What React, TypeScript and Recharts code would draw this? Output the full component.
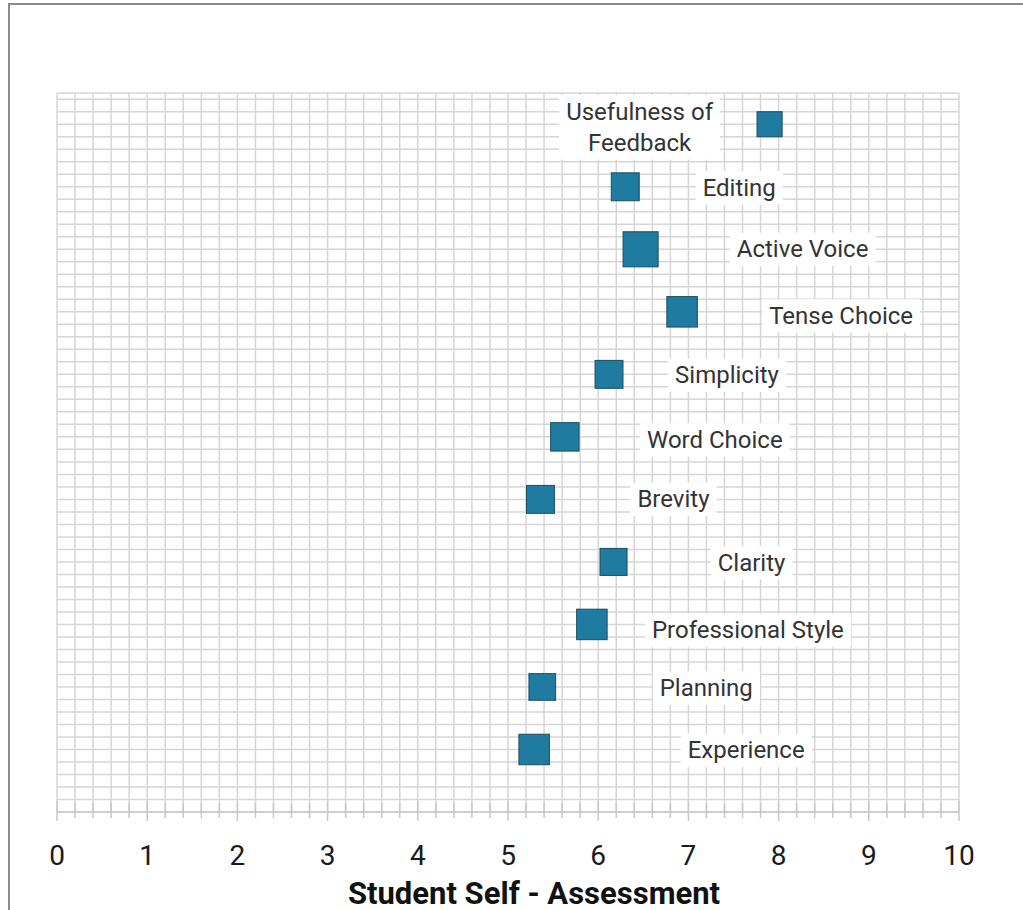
import React from 'react';
import { ScatterChart, Scatter, XAxis, YAxis, ZAxis, CartesianGrid } from 'recharts';

// skills, top to bottom
const SKILLS = [
  'Usefulness of\nFeedback',
  'Editing',
  'Active Voice',
  'Tense Choice',
  'Simplicity',
  'Word Choice',
  'Brevity',
  'Clarity',
  'Professional Style',
  'Planning',
  'Experience',
];
const SCORES = [7.9, 6.3, 6.47, 6.93, 6.12, 5.63, 5.36, 6.17, 5.93, 5.38, 5.29];
const ROWS = [11, 10, 9, 8, 7, 6, 5, 4, 3, 2, 1];
// bubble size value of each square
const BUBBLE = [6.3, 7.8, 12.3, 9.3, 7.8, 8.1, 7.8, 7.3, 9.3, 7.1, 9.3];

const X_LABELS = [0, 1, 2, 3, 4, 5, 6, 7, 8, 9, 10];
const AXIS_TITLE = 'Student Self - Assessment';

// minor grid every 0.2
const X_GRID = Array.from({ length: 51 }, (_, i) => i / 5);
const Y_GRID = Array.from({ length: 58 }, (_, i) => i / 5);

// where each label box sits, px from the square's centre
const LABEL_OFFSET = [
  [-130, 3], [114, 1], [162, 0], [159, 4], [118, 1], [150, 3],
  [133, 0], [138, 1], [156, 6], [164, 1], [212, 1],
];

const data = SKILLS.map((name, i) => ({ idx: i, name, x: SCORES[i], y: ROWS[i], z: BUBBLE[i] }));

const LABEL_FONT = '24px Roboto';
const GRID = '#d6d6d6';

let ctx: CanvasRenderingContext2D | null = null;
function measure(s: string) {
  if (!ctx) ctx = document.createElement('canvas').getContext('2d');
  if (!ctx) return s.length * 12;
  ctx.font = LABEL_FONT;
  return ctx.measureText(s).width;
}

const Marker = (props: any) => {
  const { cx, cy, size, payload } = props;
  const side = Math.sqrt(size);
  const [dx, dy] = LABEL_OFFSET[payload.idx];
  const lines: string[] = payload.name.split('\n');
  const w = Math.max(...lines.map(measure)) + 14;
  const lh = 31.3;
  const h = lines.length * lh + 2;
  const lx = cx + dx;
  const ly = cy + dy;
  return (
    <g>
      <rect x={cx - side / 2} y={cy - side / 2} width={side} height={side} fill="#1f7b9f" stroke="#1b4d62" strokeWidth={1} />
      <rect x={lx - w / 2} y={ly - h / 2} width={w} height={h} fill="#fff" />
      {lines.map((t, i) => (
        <text
          key={i}
          x={lx}
          y={ly + (i - (lines.length - 1) / 2) * lh}
          textAnchor="middle"
          dominantBaseline="central"
          fontFamily="Roboto"
          fontSize={24}
          fill="#333"
        >
          {t}
        </text>
      ))}
    </g>
  );
};

const AxisTick = (props: any) => {
  const { x, y, payload } = props;
  const v = payload.value;
  const major = Math.abs(v - Math.round(v)) < 1e-6;
  return (
    <g>
      <line x1={x} x2={x} y1={y - (major ? 11 : 9)} y2={y + (major ? 9 : 6)} stroke="#c8c8c8" strokeWidth={1.5} />
      {major && X_LABELS.includes(Math.round(v)) && (
        <text x={x} y={y + 43} textAnchor="middle" dominantBaseline="central" fontFamily="Roboto" fontSize={28} fill="#1a1a1a">
          {Math.round(v)}
        </text>
      )}
    </g>
  );
};

const NoTick = () => <g />;

export default function App() {
  return (
    <div style={{ position: 'absolute', left: 0, top: 0, width: 1023, height: 910, overflow: 'hidden', background: '#fff' }}>
      <div
        style={{
          position: 'absolute',
          left: 8,
          top: 3,
          width: 1100,
          height: 1000,
          borderLeft: '2px solid #8c8c8c',
          borderTop: '2px solid #8c8c8c',
        }}
      />
      <ScatterChart
        width={1023}
        height={910}
        margin={{ top: 93, right: 64, bottom: 0, left: 57 }}
        style={{ position: 'absolute', left: 0, top: 0 }}
      >
        <CartesianGrid stroke={GRID} strokeWidth={1.5} />
        <XAxis
          type="number"
          dataKey="x"
          domain={[0, 10]}
          ticks={X_GRID}
          interval={0}
          height={98}
          tickSize={0}
          tickMargin={0}
          tickLine={false}
          axisLine={{ stroke: '#c8c8c8', strokeWidth: 1.5 }}
          tick={<AxisTick />}
          label={{
            content: (p: any) => {
              const vb = p.viewBox;
              return (
                <text
                  x={vb.x + vb.width / 2 + 26}
                  y={vb.y + 81}
                  textAnchor="middle"
                  dominantBaseline="central"
                  fontFamily="Roboto"
                  fontWeight="bold"
                  fontSize={31}
                  fill="#111"
                >
                  {AXIS_TITLE}
                </text>
              );
            },
          }}
        />
        <YAxis
          type="number"
          dataKey="y"
          domain={[0, 11.5]}
          ticks={Y_GRID}
          interval={0}
          width={0}
          tick={<NoTick />}
          tickLine={false}
          axisLine={false}
        />
        <ZAxis type="number" dataKey="z" domain={[0, 14]} range={[0, 1400]} />
        <Scatter data={data} shape={<Marker />} isAnimationActive={false} />
      </ScatterChart>
    </div>
  );
}
